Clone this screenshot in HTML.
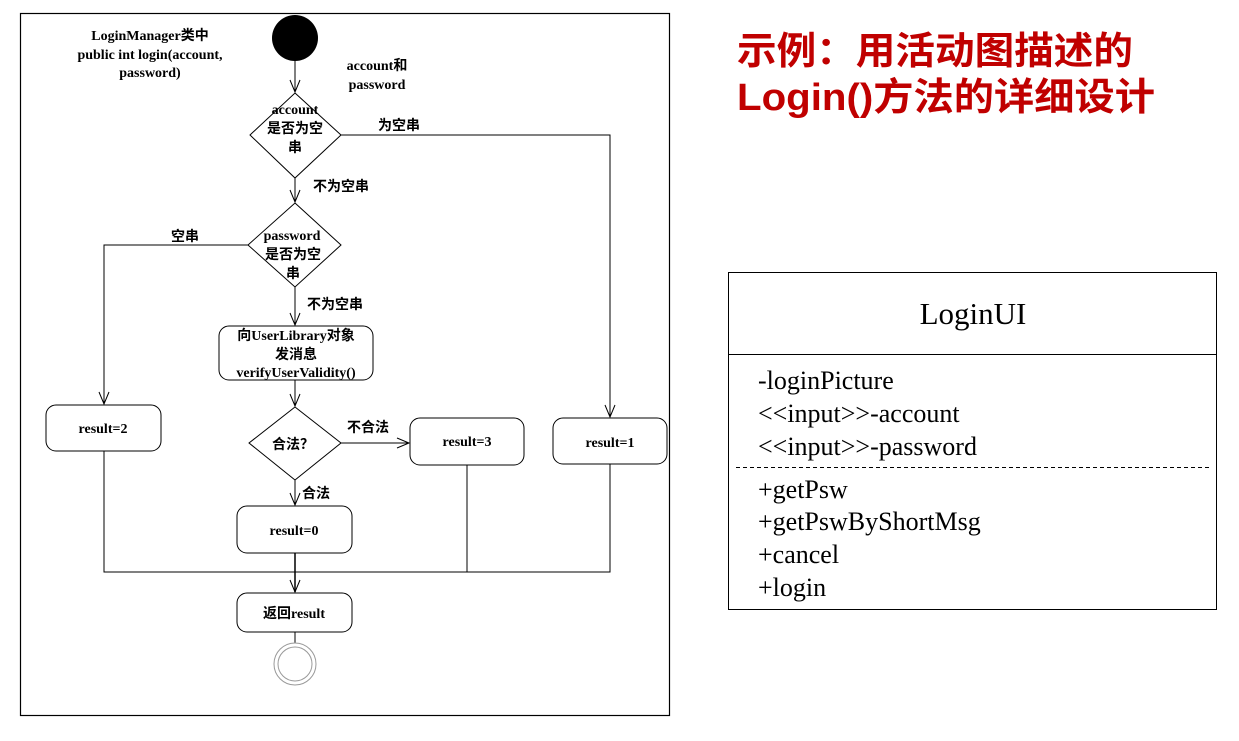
<!DOCTYPE html>
<html><head><meta charset="utf-8"><style>body{margin:0;background:#fff}</style></head><body>
<svg width="1239" height="736" viewBox="0 0 1239 736" xmlns="http://www.w3.org/2000/svg">
<defs><marker id="a" markerWidth="14" markerHeight="12" refX="13" refY="6" orient="auto" markerUnits="userSpaceOnUse"><path d="M1,1 L13,6 L1,11" fill="none" stroke="#000" stroke-width="1"/></marker></defs>
<g font-family="'Liberation Serif','Noto Sans CJK SC',serif" font-weight="bold" font-size="14" fill="#000">
<rect x="20.5" y="13.5" width="649" height="702" fill="none" stroke="#000" stroke-width="1.2"/>
<g stroke="#000" stroke-width="1" fill="none">
<line x1="295" y1="61" x2="295" y2="92" marker-end="url(#a)"/>
<polygon points="295,93 341,135 295,178 250,135" fill="#fff"/>
<polyline points="341,135 610,135 610,417" marker-end="url(#a)"/>
<line x1="295" y1="178" x2="295" y2="202" marker-end="url(#a)"/>
<polygon points="295,203 341,245 295,287 248,245" fill="#fff"/>
<polyline points="248,245 104,245 104,404" marker-end="url(#a)"/>
<line x1="295" y1="287" x2="295" y2="325" marker-end="url(#a)"/>
<rect x="219" y="326" width="154" height="54" rx="10" fill="#fff"/>
<line x1="295" y1="380" x2="295" y2="406" marker-end="url(#a)"/>
<polygon points="295,407 341,443 295,480 249,443" fill="#fff"/>
<line x1="341" y1="443" x2="409" y2="443" marker-end="url(#a)"/>
<line x1="295" y1="480" x2="295" y2="505" marker-end="url(#a)"/>
<rect x="46" y="405" width="115" height="46" rx="10" fill="#fff"/>
<rect x="410" y="418" width="114" height="47" rx="10" fill="#fff"/>
<rect x="553" y="418" width="114" height="46" rx="10" fill="#fff"/>
<rect x="237" y="506" width="115" height="47" rx="10" fill="#fff"/>
<polyline points="104,451 104,572 610,572 610,464"/>
<line x1="467" y1="465" x2="467" y2="572"/>
<line x1="295" y1="553" x2="295" y2="592" marker-end="url(#a)" stroke-width="1.5"/>
<rect x="237" y="593" width="115" height="39" rx="10" fill="#fff"/>
<line x1="295" y1="632" x2="295" y2="643"/>
<circle cx="295" cy="664" r="21" stroke="#999"/>
<circle cx="295" cy="664" r="17" stroke="#999"/>
</g>
<circle cx="295" cy="38" r="23" fill="#000"/>
<g text-anchor="middle">
<text x="150" y="40">LoginManager类中</text>
<text x="150" y="59">public int login(account,</text>
<text x="150" y="77">password)</text>
<text x="377" y="70">account和</text>
<text x="377" y="89">password</text>
<text x="295" y="114">account</text>
<text x="295" y="133">是否为空</text>
<text x="295" y="152">串</text>
<text x="292" y="240">password</text>
<text x="293" y="259">是否为空</text>
<text x="293" y="278">串</text>
<text x="296" y="340">向UserLibrary对象</text>
<text x="296" y="359">发消息</text>
<text x="296" y="377">verifyUserValidity()</text>
<text x="293" y="449">合法？</text>
<text x="103" y="433">result=2</text>
<text x="467" y="446">result=3</text>
<text x="610" y="447">result=1</text>
<text x="294" y="535">result=0</text>
<text x="294" y="618">返回result</text>
</g>
<text x="378" y="130">为空串</text>
<text x="313" y="191">不为空串</text>
<text x="171" y="241">空串</text>
<text x="307" y="309">不为空串</text>
<text x="347" y="432">不合法</text>
<text x="302" y="498">合法</text>
</g>
<g font-family="'Liberation Sans','Noto Sans CJK SC',sans-serif" font-weight="bold" fill="#c00000" font-size="38">
<text x="737" y="64" textLength="396" lengthAdjust="spacingAndGlyphs">示例：用活动图描述的</text>
<text x="737" y="110" textLength="418" lengthAdjust="spacingAndGlyphs">Login()方法的详细设计</text>
</g>
<g font-family="'Liberation Serif',serif" font-size="26" fill="#000">
<rect x="728.5" y="272.5" width="488" height="337" fill="none" stroke="#000" stroke-width="1"/>
<line x1="728" y1="354.5" x2="1216" y2="354.5" stroke="#000"/>
<line x1="736" y1="467.5" x2="1210" y2="467.5" stroke="#000" stroke-dasharray="4,3"/>
<text x="973" y="324" font-size="31" text-anchor="middle">LoginUI</text>
<text x="758" y="389">-loginPicture</text>
<text x="758" y="422">&lt;&lt;input&gt;&gt;-account</text>
<text x="758" y="455">&lt;&lt;input&gt;&gt;-password</text>
<text x="758" y="498">+getPsw</text>
<text x="758" y="530">+getPswByShortMsg</text>
<text x="758" y="563">+cancel</text>
<text x="758" y="596">+login</text>
</g>
</svg>
</body></html>
